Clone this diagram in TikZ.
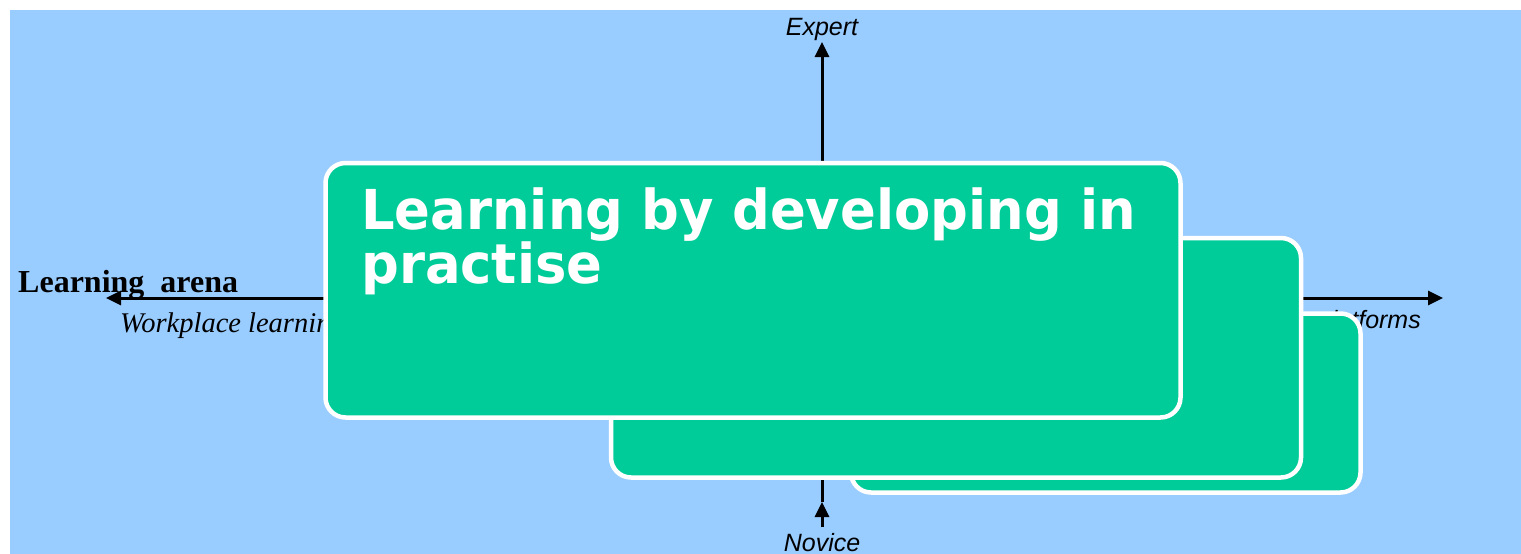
\documentclass[tikz,border=0pt]{standalone}
\usepackage{fontspec}
\setmainfont{Liberation Serif}
\newfontfamily\arialfont{Liberation Sans}
\newfontfamily\verdfont[FakeStretch=0.96]{DejaVu Sans}
\usetikzlibrary{arrows.meta}
\definecolor{bgblue}{HTML}{99CCFF}
\definecolor{boxgreen}{HTML}{00CC99}
\tikzset{
  axis/.style={line width=3pt, draw=black},
  tip/.style={-{Triangle[length=15pt,width=14pt]}},
  card/.style={fill=boxgreen, draw=white, line width=4.5pt, rounded corners=20pt},
  axlabel/.style={font=\arialfont\itshape\fontsize{25}{29}\selectfont, inner sep=0pt},
}
\begin{document}
\begin{tikzpicture}[x=1pt,y=-1pt]
\useasboundingbox (0,0) rectangle (1521,554);
\fill[white] (0,0) rectangle (1521,554);
\fill[bgblue] (10,10) rectangle (1521,554);
% coordinates
\coordinate (top) at (822,42);
\coordinate (ctr) at (822,298);
\coordinate (bot) at (822,527);
\coordinate (botmid) at (822,502);
\coordinate (left) at (106,298);
\coordinate (right) at (1443,298);
% axes
\draw[axis,tip] (ctr) -- (top);
\draw[axis,tip] (bot) -- (botmid);
\draw[axis] (botmid) -- (ctr);
\draw[axis,tip] (ctr) -- (left);
\draw[axis,tip] (ctr) -- (right);
% labels
\node[axlabel, anchor=base] (expert) at (822,35) {Expert};
\node[axlabel, anchor=base] (novice) at (822,551) {Novice};
\node[axlabel, anchor=base east] (platf) at (1421,328) {platforms};
\node[font=\bfseries\fontsize{32}{36}\selectfont, inner sep=0pt, anchor=base west] (arena) at (18,292) {Learning\ \ arena};
\node[font=\itshape\fontsize{28.5}{32}\selectfont, inner sep=0pt, anchor=base west] (work) at (120,332) {Workplace learning};
% cards
\path[card] (851,313.5) rectangle (1360.5,492.5);
\path[card] (611,238) rectangle (1301,477.5);
\path[card] (325.5,163) rectangle (1180.5,417.5);
\node[font=\verdfont\bfseries\fontsize{55}{48}\selectfont, text=white, inner sep=0pt, anchor=base west, text width=1000pt, align=left] (title) at (361,229) {Learning by developing in\\practise};
\end{tikzpicture}
\end{document}
